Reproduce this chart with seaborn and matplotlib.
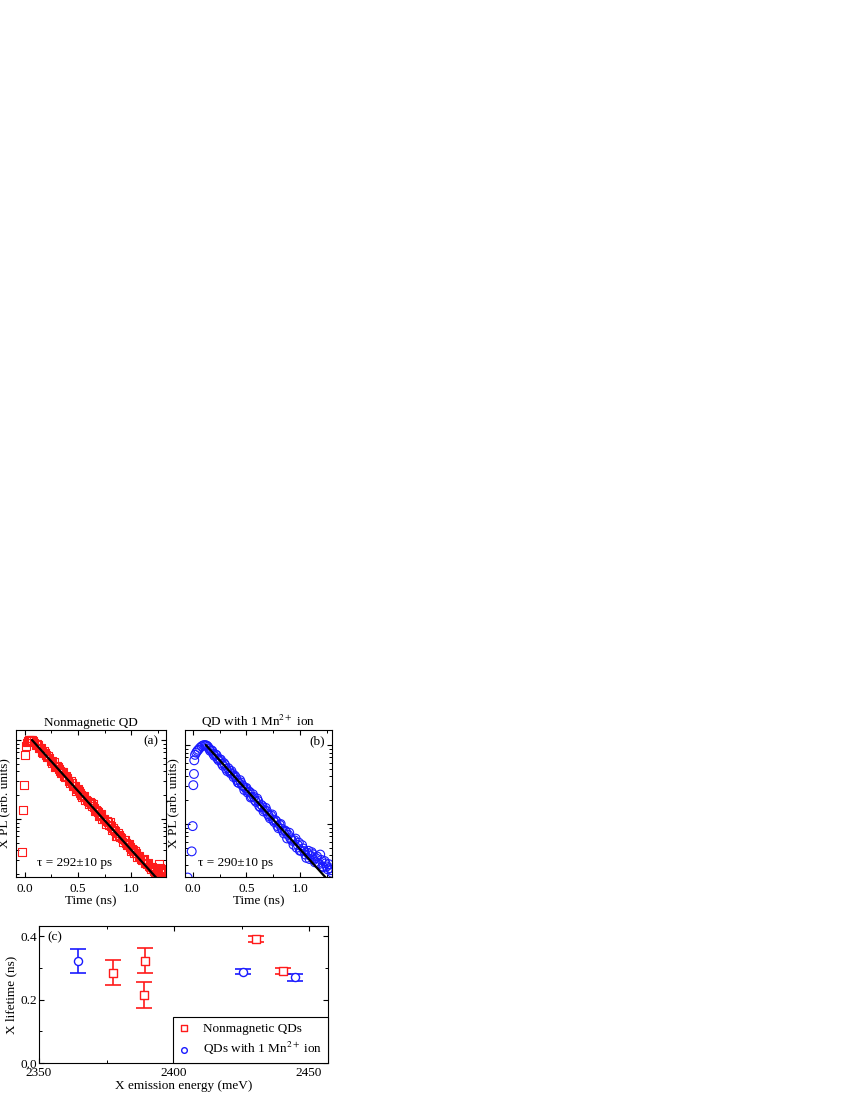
import numpy as np
import pandas as pd
import seaborn as sns
import matplotlib.pyplot as plt
from matplotlib.ticker import LogLocator, MultipleLocator, NullFormatter

# (a) nonmagnetic QD: time (ns) and X PL normalised to the peak
time_a = [-0.03, -0.02, -0.01, 0.00, 0.01, 0.02, 0.03, 0.04, 0.05, 0.06,
          0.07, 0.08, 0.09, 0.10, 0.11, 0.12, 0.13, 0.14, 0.15, 0.16,
          0.17, 0.18, 0.19, 0.20, 0.21, 0.22, 0.23, 0.24, 0.25, 0.26,
          0.27, 0.28, 0.29, 0.30, 0.31, 0.32, 0.33, 0.34, 0.35, 0.36,
          0.37, 0.38, 0.39, 0.40, 0.41, 0.42, 0.43, 0.44, 0.45, 0.46,
          0.47, 0.48, 0.49, 0.50, 0.51, 0.52, 0.53, 0.54, 0.55, 0.56,
          0.57, 0.58, 0.59, 0.60, 0.61, 0.62, 0.63, 0.64, 0.65, 0.66,
          0.67, 0.68, 0.69, 0.70, 0.71, 0.72, 0.73, 0.74, 0.75, 0.76,
          0.77, 0.78, 0.79, 0.80, 0.81, 0.82, 0.83, 0.84, 0.85, 0.86,
          0.87, 0.88, 0.89, 0.90, 0.91, 0.92, 0.93, 0.94, 0.95, 0.96,
          0.97, 0.98, 0.99, 1.00, 1.01, 1.02, 1.03, 1.04, 1.05, 1.06,
          1.07, 1.08, 1.09, 1.10, 1.11, 1.12, 1.13, 1.14, 1.15, 1.16,
          1.17, 1.18, 1.19, 1.20, 1.21, 1.22, 1.23, 1.24, 1.25, 1.26,
          1.27, 1.28, 1.29, 1.30, 1.31, 1.32, 1.33]
pl_a = [0.038, 0.13, 0.27, 0.65, 0.84, 0.93, 0.97, 1.00, 1.01, 0.99,
        0.99, 0.97, 0.93, 0.87, 0.90, 0.87, 0.78, 0.80, 0.79, 0.70,
        0.68, 0.72, 0.69, 0.645, 0.60, 0.63, 0.60, 0.545, 0.51, 0.54,
        0.52, 0.46, 0.47, 0.476, 0.45, 0.427, 0.40, 0.379, 0.395, 0.394,
        0.345, 0.341, 0.35, 0.335, 0.30, 0.283, 0.30, 0.289, 0.262, 0.260,
        0.262, 0.228, 0.236, 0.240, 0.225, 0.215, 0.20, 0.189, 0.198, 0.197,
        0.176, 0.172, 0.170, 0.153, 0.162, 0.158, 0.146, 0.154, 0.140, 0.127,
        0.130, 0.126, 0.122, 0.108, 0.113, 0.116, 0.100, 0.0996, 0.100, 0.0874,
        0.095, 0.0921, 0.084, 0.0908, 0.082, 0.0734, 0.077, 0.0735, 0.070, 0.0614,
        0.061, 0.0666, 0.063, 0.0588, 0.057, 0.0511, 0.055, 0.0547, 0.050, 0.0469,
        0.047, 0.0482, 0.044, 0.0393, 0.042, 0.0401, 0.037, 0.0399, 0.037, 0.0333,
        0.034, 0.0342, 0.031, 0.0305, 0.030, 0.0312, 0.028, 0.0273, 0.027, 0.0278,
        0.025, 0.0243, 0.0235, 0.0247, 0.0235, 0.0221, 0.0215, 0.0225, 0.0205, 0.027,
        0.024, 0.0235, 0.021, 0.0226, 0.022, 0.0213, 0.0205]
fit_time_a = [0.066, 1.30]
fit_pl_a = [1.0, 0.0146]

# (b) QD with one Mn2+ ion
time_b = [-0.05, -0.012, -0.003, 0.003, 0.009, 0.012, 0.019, 0.03, 0.04, 0.05,
          0.065, 0.08, 0.095, 0.11,
          0.12, 0.13, 0.14, 0.15, 0.16, 0.17, 0.18, 0.19, 0.20, 0.21,
          0.22, 0.23, 0.24, 0.25, 0.26, 0.27, 0.28, 0.29, 0.30, 0.31,
          0.32, 0.33, 0.34, 0.35, 0.36, 0.37, 0.38, 0.39, 0.40, 0.41,
          0.42, 0.43, 0.44, 0.45, 0.46, 0.47, 0.48, 0.49, 0.50, 0.51,
          0.52, 0.53, 0.54, 0.55, 0.56, 0.57, 0.58, 0.59, 0.60, 0.61,
          0.62, 0.63, 0.64, 0.65, 0.66, 0.67, 0.68, 0.69, 0.70, 0.71,
          0.72, 0.73, 0.74, 0.75, 0.76, 0.77, 0.78, 0.79, 0.80, 0.81,
          0.82, 0.83, 0.84, 0.85, 0.86, 0.87, 0.88, 0.89, 0.90, 0.91,
          0.92, 0.93, 0.94, 0.95, 0.96, 0.97, 0.98, 0.99, 1.00, 1.01,
          1.02, 1.03, 1.04, 1.05, 1.06, 1.07, 1.08, 1.09, 1.10, 1.11,
          1.12, 1.13, 1.14, 1.15, 1.16, 1.17, 1.18, 1.19, 1.20, 1.21,
          1.22, 1.23, 1.24, 1.25, 1.26, 1.27, 1.28, 1.29, 1.30]
pl_b = [0.021, 0.045, 0.094, 0.31, 0.43, 0.64, 0.75, 0.80, 0.84, 0.87,
        0.92, 0.96, 0.99, 1.00,
        0.99, 0.98, 0.95, 0.90, 0.845, 0.86, 0.845, 0.77, 0.73, 0.76,
        0.745, 0.67, 0.64, 0.66, 0.654, 0.58, 0.547, 0.59, 0.56, 0.50,
        0.467, 0.51, 0.478, 0.44, 0.468, 0.43, 0.392, 0.41, 0.392, 0.36,
        0.335, 0.33, 0.359, 0.335, 0.310, 0.30, 0.269, 0.285, 0.286, 0.25,
        0.257, 0.255, 0.216, 0.22, 0.238, 0.22, 0.199, 0.19, 0.210, 0.195,
        0.168, 0.163, 0.174, 0.168, 0.144, 0.15, 0.160, 0.146, 0.133, 0.126,
        0.118, 0.128, 0.132, 0.112, 0.106, 0.112, 0.108, 0.094, 0.0884, 0.098,
        0.100, 0.087, 0.082, 0.076, 0.0828, 0.080, 0.0656, 0.073, 0.0776, 0.066,
        0.0635, 0.061, 0.0546, 0.062, 0.0653, 0.050, 0.0542, 0.058, 0.0458, 0.046,
        0.054, 0.049, 0.0454, 0.041, 0.0372, 0.043, 0.0458, 0.036, 0.0392, 0.044,
        0.0415, 0.035, 0.0327, 0.037, 0.0388, 0.032, 0.0311, 0.041, 0.0351, 0.029,
        0.0283, 0.034, 0.0317, 0.029, 0.0266, 0.031, 0.0276, 0.026, 0.0241]
fit_time_b = [0.12, 1.30]
fit_pl_b = [1.0, 0.0171]

# (c) lifetimes vs emission energy
energy_nm = [2377.3, 2389.3, 2388.8, 2430.4, 2440.2]
life_nm = [0.285, 0.323, 0.215, 0.391, 0.291]
err_nm = [0.040, 0.040, 0.040, 0.010, 0.009]
energy_mn = [2364.3, 2425.4, 2444.9]
life_mn = [0.322, 0.288, 0.270]
err_mn = [0.039, 0.008, 0.010]

RED = "#ff1a1a"
BLUE = "#1a1aff"

sns.set_theme(style="ticks")
plt.rcParams["font.family"] = ["Liberation Serif", "DejaVu Serif"]
plt.rcParams["mathtext.fontset"] = "stix"
plt.rcParams.update({
    "font.size": 9.5,
    "axes.labelsize": 9.5,
    "axes.titlesize": 9.5,
    "xtick.labelsize": 9.5,
    "ytick.labelsize": 9.5,
    "axes.linewidth": 0.8,
    "axes.edgecolor": "black",
    "xtick.direction": "in",
    "ytick.direction": "in",
    "xtick.top": True,
    "ytick.right": True,
    "xtick.major.size": 3.5,
    "ytick.major.size": 3.5,
    "xtick.minor.size": 2,
    "ytick.minor.size": 2,
    "xtick.major.width": 0.8,
    "ytick.major.width": 0.8,
    "xtick.minor.width": 0.7,
    "ytick.minor.width": 0.7,
    "xtick.color": "black",
    "ytick.color": "black",
    "text.color": "black",
    "axes.labelcolor": "black",
})

fig = plt.figure(figsize=(8.5, 11), dpi=100)
ax_a = fig.add_axes([0.0188, 0.2027, 0.1765, 0.1337])
ax_b = fig.add_axes([0.2176, 0.2027, 0.1730, 0.1337])
ax_c = fig.add_axes([0.0459, 0.0336, 0.3400, 0.1246])


def decay_panel(ax, t, pl, ft, fpl, marker, color, size, title, tau_text, tag, xlim, ylim, tau_x):
    sns.scatterplot(x=t, y=pl, marker=marker, s=size, color=color, facecolor="none",
                    edgecolor=color, linewidth=0.8, ax=ax, zorder=2)
    sns.lineplot(x=ft, y=fpl, color="black", linewidth=1.6, ax=ax, zorder=3)
    ax.set_yscale("log")
    ax.set_xlim(*xlim)
    ax.set_ylim(*ylim)
    ax.xaxis.set_minor_locator(MultipleLocator(0.25))
    ax.set_xticks([0.0, 0.5, 1.0])
    ax.set_xticklabels(["0.0", "0.5", "1.0"])
    ax.yaxis.set_major_locator(LogLocator(base=10))
    ax.yaxis.set_minor_locator(LogLocator(base=10, subs=np.arange(2, 10)))
    ax.yaxis.set_major_formatter(NullFormatter())
    ax.yaxis.set_minor_formatter(NullFormatter())
    ax.tick_params(axis="x", which="both", pad=4)
    ax.set_xlabel("Time (ns)", labelpad=0.5)
    ax.set_ylabel("X PL (arb. units)", labelpad=0.5)
    ax.set_title(title, pad=3)
    ax.text(tau_x, 0.095, tau_text, transform=ax.transAxes, ha="left", va="center")
    ax.text(0.95, 0.925, tag, transform=ax.transAxes, ha="right", va="center")


decay_panel(ax_a, time_a, pl_a, fit_time_a, fit_pl_a, "s", RED, 32,
            "Nonmagnetic QD", "τ = 292±10 ps", "(a)", (-0.085, 1.33), (0.0184, 1.34), 0.14)
decay_panel(ax_b, time_b, pl_b, fit_time_b, fit_pl_b, "o", BLUE, 40,
            r"QD with 1 Mn$^{2+}$ ion", "τ = 290±10 ps", "(b)", (-0.075, 1.30), (0.0213, 1.55), 0.09)

# (c)
ax_c.errorbar(energy_nm, life_nm, yerr=err_nm, fmt="none", ecolor=RED,
              elinewidth=1.2, capsize=6, capthick=1.2, zorder=2)
ax_c.errorbar(energy_mn, life_mn, yerr=err_mn, fmt="none", ecolor=BLUE,
              elinewidth=1.2, capsize=6, capthick=1.2, zorder=2)
sns.scatterplot(x=energy_nm, y=life_nm, marker="s", s=30, color=RED, facecolor="white",
                edgecolor=RED, linewidth=1.0, ax=ax_c, zorder=3, label="Nonmagnetic QDs")
sns.scatterplot(x=energy_mn, y=life_mn, marker="o", s=34, color=BLUE, facecolor="white",
                edgecolor=BLUE, linewidth=1.0, ax=ax_c, zorder=3, label=r"QDs with 1 Mn$^{2+}$ ion")
ax_c.set_xlim(2350, 2457)
ax_c.set_ylim(0, 0.432)
ax_c.xaxis.set_major_locator(MultipleLocator(50))
ax_c.xaxis.set_minor_locator(MultipleLocator(25))
ax_c.yaxis.set_major_locator(MultipleLocator(0.2))
ax_c.yaxis.set_minor_locator(MultipleLocator(0.1))
ax_c.yaxis.set_major_formatter(plt.FuncFormatter(lambda v, p: f"{v:.1f}"))
ax_c.tick_params(axis="x", which="both", pad=3)
ax_c.tick_params(axis="y", which="both", pad=1.5)
ax_c.set_xlabel("X emission energy (meV)", labelpad=0.5)
ax_c.set_ylabel("X lifetime (ns)", labelpad=2)
ax_c.text(0.028, 0.916, "(c)", transform=ax_c.transAxes, ha="left", va="center")
leg = ax_c.legend(loc="lower right", borderaxespad=0, fancybox=False, frameon=True,
                  edgecolor="black", fontsize=9.5, handletextpad=1.0, borderpad=0.45,
                  labelspacing=0.4, handlelength=0.8, markerscale=0.7)
leg.get_frame().set_linewidth(0.8)
leg.get_frame().set_alpha(1)

fig.savefig("out.png", dpi=100)
